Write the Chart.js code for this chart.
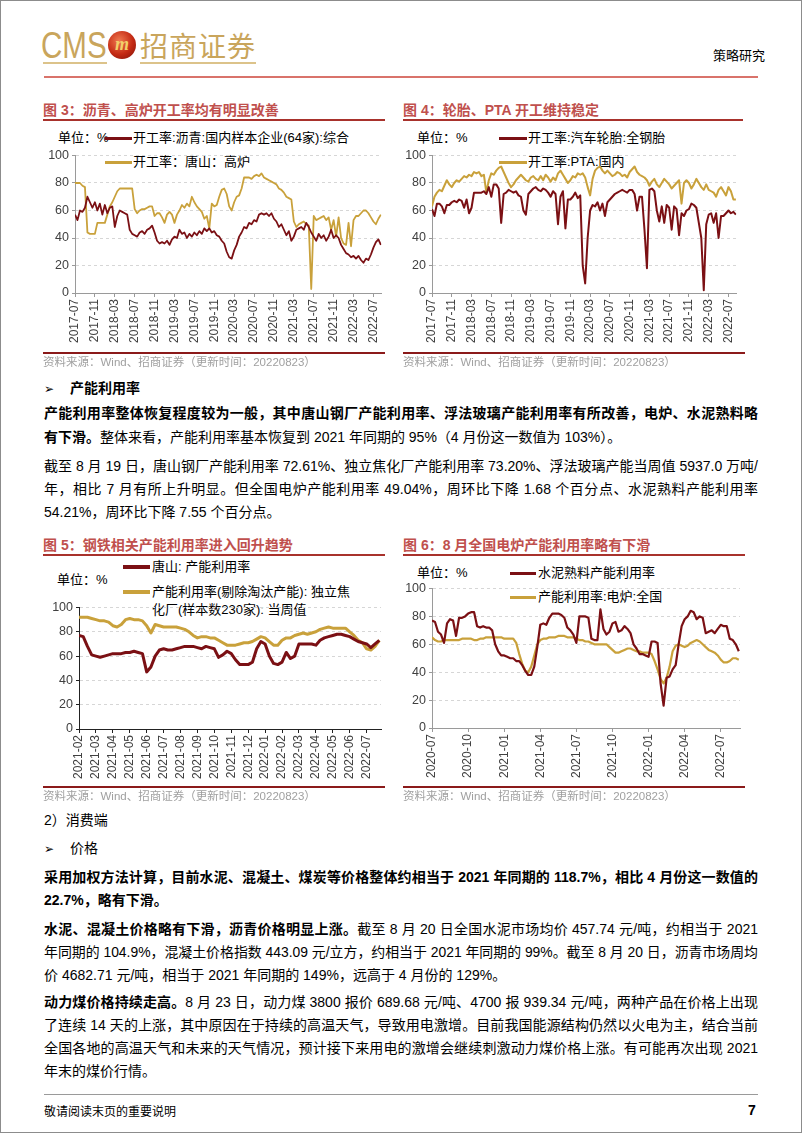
<!DOCTYPE html>
<html><head><meta charset="utf-8">
<script src="https://cdn.jsdelivr.net/npm/chart.js@4.4.0/dist/chart.umd.min.js"></script>
<style>
html,body{margin:0;padding:0;background:#fff;}
#page{position:relative;width:802px;height:1133px;overflow:hidden;font-family:"Liberation Sans","Noto Sans CJK SC",sans-serif;color:#000;background:#fff;}
.frame{position:absolute;left:0;top:0;width:800px;height:1131px;border:1px solid #8c8c8c;}
.abs{position:absolute;white-space:nowrap;}
.title{position:absolute;white-space:nowrap;font-size:14px;font-weight:bold;color:#c0504d;height:20px;line-height:20px;}
.rule{position:absolute;height:1.5px;background:#a8322c;}
.src{position:absolute;white-space:nowrap;font-size:11.5px;color:#a0a0a0;height:16px;line-height:16px;}
.line{position:absolute;left:44px;width:714px;height:22px;line-height:22px;font-size:14px;white-space:nowrap;}
.j{text-align:justify;text-align-last:justify;}
b{font-weight:bold;}
.leg{position:absolute;font-size:13px;white-space:nowrap;color:#000;height:18px;line-height:18px;}
.sw{position:absolute;height:3px;}
canvas{position:absolute;}
.arrow{font-family:"DejaVu Sans";font-size:12px;}
</style></head>
<body>
<div id="page">
<div class="frame"></div>

<!-- header -->
<div class="abs" style="left:41px;top:26px;font-family:'Liberation Sans';font-size:36px;line-height:40px;color:#c9a55c;transform:scaleX(0.82);transform-origin:left top;">CMS</div>
<div class="abs" style="left:108px;top:31px;width:28px;height:28px;border-radius:50%;background:radial-gradient(circle at 40% 35%,#f07a50,#c42a14 55%,#7a1008);"></div>
<div class="abs" style="left:112px;top:33px;width:20px;height:22px;line-height:22px;text-align:center;font-family:'Liberation Serif';font-style:italic;font-weight:bold;font-size:18px;color:#f2cf6a;">m</div>
<div class="abs" style="left:140px;top:27px;font-family:'Noto Sans CJK SC';font-size:28px;line-height:36px;color:#c9a55c;letter-spacing:1px;">招商证券</div>
<div class="abs" style="left:43px;top:62px;width:64px;height:2px;background:#dcc38a;"></div>
<div class="abs" style="left:140px;top:62px;width:116px;height:2px;background:#dcc38a;"></div>
<div class="abs" style="left:44px;top:76px;width:714px;height:1.5px;background:#d9736b;"></div>
<div class="abs" style="left:713px;top:46px;font-family:'Noto Sans CJK SC';font-size:13px;line-height:18px;">策略研究</div>

<!-- chart 3 -->
<div class="title" style="left:43px;top:100px;">图 3：沥青、高炉开工率均有明显改善</div>
<div class="rule" style="left:43px;top:119px;width:342px;"></div>
<div class="leg" style="left:58px;top:129px;">单位：%</div>
<div class="sw" style="left:105px;top:137px;width:27px;background:#7b1014;"></div>
<div class="leg" style="left:133px;top:129px;">开工率:沥青:国内样本企业(64家):综合</div>
<div class="sw" style="left:105px;top:161px;width:27px;background:#c9a13b;"></div>
<div class="leg" style="left:133px;top:153px;">开工率：唐山：高炉</div>
<canvas id="c3" width="350" height="210" style="left:40px;top:145px;"></canvas>
<div class="rule" style="left:43px;top:352px;width:342px;background:#8b1a1a;"></div>
<div class="src" style="left:43px;top:354px;">资料来源：Wind、招商证券（更新时间：20220823）</div>

<!-- chart 4 -->
<div class="title" style="left:403px;top:100px;">图 4：轮胎、PTA 开工维持稳定</div>
<div class="rule" style="left:403px;top:119px;width:340px;"></div>
<div class="leg" style="left:417px;top:129px;">单位：%</div>
<div class="sw" style="left:499px;top:137px;width:28px;background:#7b1014;"></div>
<div class="leg" style="left:528px;top:129px;">开工率:汽车轮胎:全钢胎</div>
<div class="sw" style="left:499px;top:161px;width:28px;background:#c9a13b;"></div>
<div class="leg" style="left:528px;top:153px;">开工率:PTA:国内</div>
<canvas id="c4" width="345" height="210" style="left:400px;top:145px;"></canvas>
<div class="rule" style="left:403px;top:352px;width:342px;background:#8b1a1a;"></div>
<div class="src" style="left:403px;top:354px;">资料来源：Wind、招商证券（更新时间：20220823）</div>

<!-- text block 1 -->
<div class="line" style="top:377px;"><span class="arrow">➢</span><span style="margin-left:16px;font-weight:bold;">产能利用率</span></div>
<div class="line j" style="top:402px;"><b>产能利用率整体恢复程度较为一般，其中唐山钢厂产能利用率、浮法玻璃产能利用率有所改善，电炉、水泥熟料略</b></div>
<div class="line" style="top:426px;"><b>有下滑。</b>整体来看，产能利用率基本恢复到 2021 年同期的 95%（4 月份这一数值为 103%）。</div>
<div class="line j" style="top:455px;">截至 8 月 19 日，唐山钢厂产能利用率 72.61%、独立焦化厂产能利用率 73.20%、浮法玻璃产能当周值 5937.0 万吨/</div>
<div class="line j" style="top:478px;">年，相比 7 月有所上升明显。但全国电炉产能利用率 49.04%，周环比下降 1.68 个百分点、水泥熟料产能利用率</div>
<div class="line" style="top:501px;">54.21%，周环比下降 7.55 个百分点。</div>

<!-- chart 5 -->
<div class="title" style="left:43px;top:535px;">图 5：钢铁相关产能利用率进入回升趋势</div>
<div class="rule" style="left:43px;top:554px;width:342px;"></div>
<div class="sw" style="left:123px;top:565px;width:27px;height:4px;background:#7b1014;"></div>
<div class="leg" style="left:152px;top:558px;">唐山: 产能利用率</div>
<div class="leg" style="left:57px;top:571px;">单位：%</div>
<div class="sw" style="left:123px;top:590px;width:27px;height:4px;background:#c9a13b;"></div>
<div class="leg" style="left:152px;top:583px;">产能利用率(剔除淘汰产能): 独立焦</div>
<div class="leg" style="left:152px;top:601px;">化厂(样本数230家): 当周值</div>
<canvas id="c5" width="345" height="190" style="left:40px;top:597px;"></canvas>
<div class="rule" style="left:43px;top:786px;width:342px;background:#8b1a1a;"></div>
<div class="src" style="left:43px;top:788px;">资料来源：Wind、招商证券（更新时间：20220823）</div>

<!-- chart 6 -->
<div class="title" style="left:403px;top:535px;">图 6：8 月全国电炉产能利用率略有下滑</div>
<div class="rule" style="left:403px;top:554px;width:342px;"></div>
<div class="leg" style="left:417px;top:564px;">单位：%</div>
<div class="sw" style="left:510px;top:572px;width:26px;background:#7b1014;"></div>
<div class="leg" style="left:538px;top:564px;">水泥熟料产能利用率</div>
<div class="sw" style="left:510px;top:596px;width:26px;background:#c9a13b;"></div>
<div class="leg" style="left:538px;top:588px;">产能利用率:电炉:全国</div>
<canvas id="c6" width="345" height="210" style="left:400px;top:578px;"></canvas>
<div class="rule" style="left:403px;top:786px;width:342px;background:#8b1a1a;"></div>
<div class="src" style="left:403px;top:788px;">资料来源：Wind、招商证券（更新时间：20220823）</div>

<!-- text block 2 -->
<div class="line" style="top:809px;">2）消费端</div>
<div class="line" style="top:837px;"><span class="arrow">➢</span><span style="margin-left:16px;">价格</span></div>
<div class="line j" style="top:866px;"><b>采用加权方法计算，目前水泥、混凝土、煤炭等价格整体约相当于 2021 年同期的 118.7%，相比 4 月份这一数值的</b></div>
<div class="line" style="top:889px;"><b>22.7%，略有下滑。</b></div>
<div class="line j" style="top:918px;"><b>水泥、混凝土价格略有下滑，沥青价格明显上涨。</b>截至 8 月 20 日全国水泥市场均价 457.74 元/吨，约相当于 2021</div>
<div class="line j" style="top:941px;">年同期的 104.9%，混凝土价格指数 443.09 元/立方，约相当于 2021 年同期的 99%。截至 8 月 20 日，沥青市场周均</div>
<div class="line" style="top:964px;">价 4682.71 元/吨，相当于 2021 年同期的 149%，远高于 4 月份的 129%。</div>
<div class="line j" style="top:991px;"><b>动力煤价格持续走高。</b>8 月 23 日，动力煤 3800 报价 689.68 元/吨、4700 报 939.34 元/吨，两种产品在价格上出现</div>
<div class="line j" style="top:1014px;">了连续 14 天的上涨，其中原因在于持续的高温天气，导致用电激增。目前我国能源结构仍然以火电为主，结合当前</div>
<div class="line j" style="top:1037px;">全国各地的高温天气和未来的天气情况，预计接下来用电的激增会继续刺激动力煤价格上涨。有可能再次出现 2021</div>
<div class="line" style="top:1060px;">年末的煤价行情。</div>

<!-- footer -->
<div class="abs" style="left:44px;top:1094px;width:714px;height:1px;background:#9a9a9a;"></div>
<div class="abs" style="left:44px;top:1102px;font-size:12px;line-height:18px;font-family:'Noto Sans CJK SC';">敬请阅读末页的重要说明</div>
<div class="abs" style="left:748px;top:1101px;font-size:14px;line-height:18px;font-weight:bold;">7</div>
</div>

<script>
// ---------- DATA ----------
// Fig 3: half-month samples from 2017-07
const c3TickLabels = ['2017-07','2017-11','2018-03','2018-07','2018-11','2019-03','2019-07','2019-11','2020-03','2020-07','2020-11','2021-03','2021-07','2021-11','2022-03','2022-07'];
const asphaltRate = [
57,53,60,59,62,70,66,62,66,60,
65,57,64,58,62,63,48,56,60,59,
58,57,46,43,42,41,44,45,43,46,
47,49,44,38,36,37,36,38,35,39,
41,40,46,43,44,40,43,41,44,42,
45,43,47,45,47,44,45,42,41,38,
36,30,26,25,31,35,41,44,48,47,
51,50,53,52,57,58,57,58,56,58,
54,52,48,50,46,42,45,38,41,46,
47,48,46,51,48,44,41,38,43,40,
42,38,41,46,40,42,40,35,32,29,
28,26,27,25,27,24,22,25,24,28,
33,37,39,35];
const tangshanBlastFurnace = [
80,80,80,78,77,44,43,43,43,51,
51,51,51,57,63,66,70,74,76,76,
76,76,76,76,61,58,60,61,61,62,
63,63,56,58,58,55,51,57,59,57,
51,57,60,64,62,65,63,70,66,63,
61,59,54,56,47,65,63,64,70,75,
76,72,63,60,66,70,71,76,84,84,
84,83,85,86,85,87,84,83,82,81,
80,79,76,75,73,70,69,68,52,48,
50,51,52,50,49,3,56,53,54,55,
56,53,55,46,53,41,55,40,36,35,
51,34,53,56,56,58,60,60,58,55,
52,50,54,57];

// Fig 4: half-month samples from 2017-07
const c4TickLabels = c3TickLabels;
const tireRate = [
61,56,65,65,63,58,64,64,66,67,
66,68,67,62,68,58,62,73,73,73,
73,74,72,77,70,79,79,76,51,72,
73,75,74,73,74,71,70,60,57,72,
74,76,77,75,74,76,75,73,70,74,
72,50,70,74,47,68,68,70,73,69,
71,20,7,40,60,64,63,66,60,65,
56,66,68,70,72,73,74,75,74,73,
75,75,72,60,70,70,46,18,75,76,
74,60,52,63,51,64,62,46,63,61,
42,58,56,60,61,65,64,62,51,40,
2,50,57,58,51,58,40,56,56,58,
60,58,59,57];
const ptaRate = [
63,70,73,75,74,78,82,79,77,80,
82,81,83,85,84,86,85,88,87,88,
85,86,73,82,87,86,89,91,92,88,
84,80,77,79,82,84,86,84,82,81,
84,85,83,82,85,82,86,84,81,84,
82,87,89,86,83,80,82,85,84,87,
86,87,84,77,71,83,89,91,92,89,
87,89,87,85,86,88,87,85,86,84,
88,90,92,88,86,85,84,82,78,81,
83,79,77,80,83,81,79,76,78,80,
82,65,80,82,80,76,79,83,80,77,
75,79,75,74,73,70,75,77,74,71,
77,74,68,68];

// Fig 5: weekly samples from 2021-02
const c5TickLabels = ['2021-02','2021-03','2021-04','2021-05','2021-06','2021-07','2021-08','2021-09','2021-10','2021-11','2021-12','2022-01','2022-02','2022-03','2022-04','2022-05','2022-06','2022-07'];
const tangshanUtil = [
77,76,68,61,60,59,60,61,62,62,
62,63,63,64,63,62,47,51,60,65,
66,65,65,66,67,68,68,68,67,66,
68,67,66,59,61,64,62,57,53,53,
53,55,66,72,70,60,54,53,55,63,
58,60,70,70,70,70,69,73,75,76,
77,78,78,77,76,74,72,71,70,67,
70,73];
const cokeUtil = [
92,92,92,91,90,89,89,88,85,84,
86,90,91,90,90,89,85,79,86,85,
84,84,84,84,83,82,80,77,75,76,
76,75,75,73,71,69,69,69,70,71,
71,72,74,76,75,72,69,69,73,75,
75,77,78,79,78,79,80,82,83,84,
83,83,83,83,80,77,73,71,66,65,
68,73];

// Fig 6: weekly samples from 2020-07
const c6TickLabels = ['2020-07','2020-10','2021-01','2021-04','2021-07','2021-10','2022-01','2022-04','2022-07'];
const cementUtil = [
77,76,69,67,61,75,78,77,66,79,
79,80,82,83,83,73,72,73,72,72,
70,60,55,52,52,51,50,50,48,48,
45,41,38,38,44,58,74,75,74,79,
82,82,82,81,79,72,70,67,61,80,
80,80,79,64,63,63,85,71,67,69,
75,76,69,70,73,71,68,60,57,53,
53,52,51,62,62,61,32,16,36,37,
42,45,60,73,78,80,84,83,78,80,
79,68,69,70,68,71,74,73,73,64,
63,60,55];
const eafUtil = [
65,63,62,62,63,63,63,63,63,63,
64,64,64,64,63,63,64,64,65,65,
65,65,65,65,64,64,64,64,61,53,
46,41,40,44,52,60,63,64,64,65,
65,65,66,66,66,65,65,65,64,63,
63,62,62,61,60,60,60,60,60,58,
56,54,54,55,56,57,57,56,55,55,
54,54,54,53,48,42,35,32,36,44,
55,59,60,59,58,59,61,62,63,62,
60,58,56,55,54,52,49,47,47,48,
50,50,49];

// ---------- RENDER ----------
const RED = '#7b1014', GOLD = '#c9a13b';
function pts(values, stepMonths) { return values.map((v, i) => ({x: i * stepMonths, y: v})); }

function draw(id, o) {
  new Chart(document.getElementById(id), {
    type: 'line',
    data: { datasets: o.series.map(s => ({
      data: pts(s.values, o.step), borderColor: s.color, backgroundColor: s.color,
      borderWidth: o.lw, pointRadius: 0, tension: 0, fill: false, borderJoinStyle: 'round'
    })) },
    options: {
      responsive: false, animation: false, devicePixelRatio: 1,
      layout: { padding: { top: o.padT, right: o.padR, left: 0, bottom: 0 } },
      plugins: { legend: { display: false }, tooltip: { enabled: false } },
      scales: {
        x: {
          type: 'linear', min: 0, max: o.xMax,
          ticks: { stepSize: o.xStep, autoSkip: false, includeBounds: false, maxRotation: 90, minRotation: 90,
            padding: 2, color: '#404040', font: { family: 'Liberation Sans', size: 12 },
            callback: v => { const k = Math.round(v / o.xStep); return o.labels[k] !== undefined ? o.labels[k] : ''; } },
          grid: { drawOnChartArea: false, drawTicks: true, tickLength: 4, color: o.axis },
          border: { display: true, color: o.axis, width: 1 },
          afterFit: s => { s.height = o.xH; }
        },
        y: {
          min: 0, max: 100,
          ticks: { stepSize: o.yStep, padding: 3, color: '#404040', font: { family: 'Liberation Sans', size: 12.5 } },
          grid: { color: '#d6d6d6', drawTicks: true, tickLength: 3, tickColor: o.axis },
          border: { display: true, color: o.axis, width: 1, dash: [3, 3] },
          afterFit: s => { s.width = o.yW; }
        }
      }
    }
  });
}

draw('c3', { series: [{values: asphaltRate, color: RED}, {values: tangshanBlastFurnace, color: GOLD}],
  step: 0.5, xMax: 61.6, xStep: 4, labels: c3TickLabels, yStep: 20, yW: 35, xH: 62, padT: 8, padR: 7, axis: '#9a9a9a', lw: 1.8 });
draw('c4', { series: [{values: tireRate, color: RED}, {values: ptaRate, color: GOLD}],
  step: 0.5, xMax: 61.6, xStep: 4, labels: c4TickLabels, yStep: 10, yW: 32, xH: 62, padT: 8, padR: 5, axis: '#9a9a9a', lw: 2 });
draw('c5', { series: [{values: tangshanUtil, color: RED}, {values: cokeUtil, color: GOLD}],
  step: 0.25, xMax: 17.85, xStep: 1, labels: c5TickLabels, yStep: 20, yW: 39, xH: 58, padT: 10, padR: 4, axis: '#222222', lw: 3 });
draw('c6', { series: [{values: cementUtil, color: RED}, {values: eafUtil, color: GOLD}],
  step: 0.25, xMax: 25.6, xStep: 3, labels: c6TickLabels, yStep: 20, yW: 32, xH: 60, padT: 10, padR: 5, axis: '#9a9a9a', lw: 2.2 });

// fit justified text lines into the column width
document.querySelectorAll('.line').forEach(el => {
  const span = document.createElement('span');
  span.style.display = 'inline-block';
  while (el.firstChild) span.appendChild(el.firstChild);
  el.appendChild(span);
  const w = span.getBoundingClientRect().width;
  if (w > 714) {
    span.style.transform = 'scaleX(' + (714 / w) + ')';
    span.style.transformOrigin = 'left center';
  } else if (el.classList.contains('j')) {
    while (span.firstChild) el.appendChild(span.firstChild);
    el.removeChild(span);
  } else {
    while (span.firstChild) el.appendChild(span.firstChild);
    el.removeChild(span);
  }
});
</script>
</body></html>
